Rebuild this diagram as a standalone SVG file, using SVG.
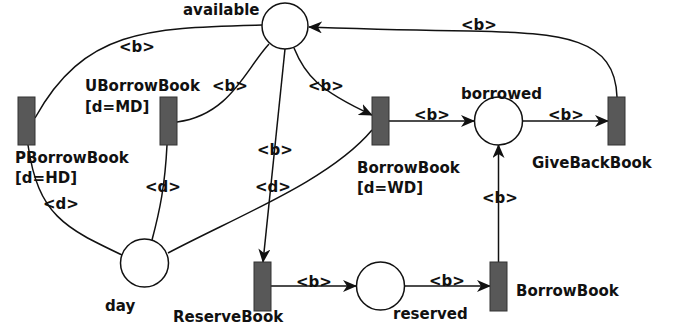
<svg xmlns="http://www.w3.org/2000/svg" width="679" height="332" viewBox="0 0 679 332">
<style>
text{font-family:"DejaVu Sans",Verdana,sans-serif;font-weight:bold;font-size:15px;fill:#111}
.place{fill:#fff;stroke:#111;stroke-width:1.5}
.trans{fill:#585858;stroke:#333;stroke-width:1}
.arc{fill:none;stroke:#111;stroke-width:1.5}
</style>
<defs>
<marker id="ah" viewBox="0 0 14 12" refX="13" refY="6" markerWidth="14" markerHeight="12" markerUnits="userSpaceOnUse" orient="auto">
<path d="M0,0 L14,6 L0,12 L4,6 z" fill="#111"/>
</marker>
</defs>
<rect width="679" height="332" fill="#fff"/>
<g id="connectors">
<path class="arc" d="M262,25 C150,28 85,28 35,118"/>
<path class="arc" d="M269,44 C245,70 230,115 177,122"/>
<path class="arc" d="M285,49 L263,262" marker-end="url(#ah)"/>
<path class="arc" d="M294,48 C305,75 318,90 372,115" marker-end="url(#ah)"/>
<path class="arc" d="M617,97 C615,38 565,33 470,31 C400,30 340,28 309,27" marker-end="url(#ah)"/>
<path class="arc" d="M389,121 L474,121" marker-end="url(#ah)"/>
<path class="arc" d="M523,121 L608,121" marker-end="url(#ah)"/>
<path class="arc" d="M498.5,262 L498.5,145" marker-end="url(#ah)"/>
<path class="arc" d="M271,286 L356,286" marker-end="url(#ah)"/>
<path class="arc" d="M404,286 L490,286" marker-end="url(#ah)"/>
<path class="arc" d="M122,255 C65,228 38,215 28,145"/>
<path class="arc" d="M152,240 C160,210 165,185 167,145"/>
<path class="arc" d="M168,253 C240,215 330,180 372,130"/>
<text x="119" y="52">&lt;b&gt;</text>
<text x="212" y="91">&lt;b&gt;</text>
<text x="308" y="91">&lt;b&gt;</text>
<text x="461" y="30">&lt;b&gt;</text>
<text x="414" y="120">&lt;b&gt;</text>
<text x="548" y="120">&lt;b&gt;</text>
<text x="257" y="155">&lt;b&gt;</text>
<text x="255" y="192">&lt;d&gt;</text>
<text x="145" y="192">&lt;d&gt;</text>
<text x="43" y="209">&lt;d&gt;</text>
<text x="482" y="203">&lt;b&gt;</text>
<text x="296" y="287">&lt;b&gt;</text>
<text x="429" y="286">&lt;b&gt;</text>
</g>
<g id="available">
<circle class="place" cx="285" cy="26" r="23"/>
<text x="183" y="15">available</text>
</g>
<g id="borrowed">
<circle class="place" cx="498.5" cy="121" r="24"/>
<text x="461" y="99">borrowed</text>
</g>
<g id="day">
<circle class="place" cx="144.5" cy="263" r="24"/>
<text x="105" y="311">day</text>
</g>
<g id="reserved">
<circle class="place" cx="380.5" cy="286" r="24"/>
<text x="393" y="319">reserved</text>
</g>
<g id="PBorrowBook">
<rect class="trans" x="18" y="97" width="17" height="48"/>
<text x="15" y="163">PBorrowBook</text>
<text x="15" y="183">[d=HD]</text>
</g>
<g id="UBorrowBook">
<rect class="trans" x="160" y="97" width="17" height="48"/>
<text x="85" y="91">UBorrowBook</text>
<text x="85" y="112">[d=MD]</text>
</g>
<g id="BorrowBook1">
<rect class="trans" x="372" y="97" width="17" height="48"/>
<text x="357" y="173">BorrowBook</text>
<text x="357" y="193">[d=WD]</text>
</g>
<g id="GiveBackBook">
<rect class="trans" x="608" y="97" width="17" height="48"/>
<text x="532" y="168">GiveBackBook</text>
</g>
<g id="ReserveBook">
<rect class="trans" x="254" y="262" width="17" height="49"/>
<text x="173" y="322">ReserveBook</text>
</g>
<g id="BorrowBook2">
<rect class="trans" x="490" y="262" width="17" height="49"/>
<text x="516" y="296">BorrowBook</text>
</g>
</svg>
